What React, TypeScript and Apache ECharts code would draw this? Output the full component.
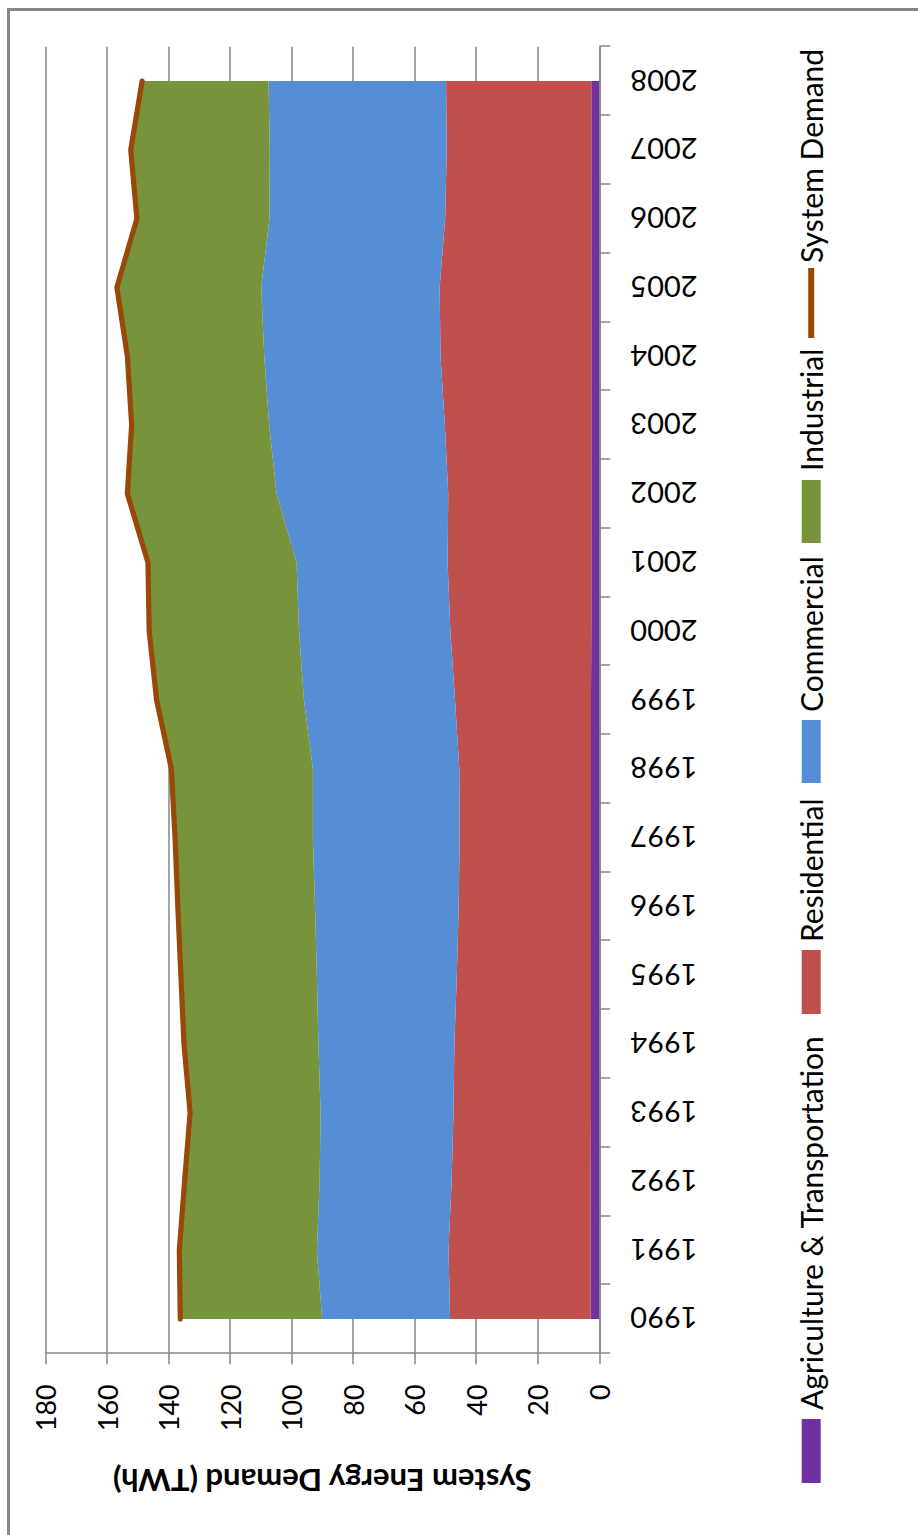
import React, { useEffect, useRef } from "react";
import * as echarts from "echarts";

// ---- data (TWh) ----
const years = [
  "1990", "1991", "1992", "1993", "1994", "1995", "1996", "1997", "1998", "1999",
  "2000", "2001", "2002", "2003", "2004", "2005", "2006", "2007", "2008",
];
const agriculture = [2.8, 2.8, 2.8, 2.7, 2.7, 2.7, 2.7, 2.7, 2.7, 2.7, 2.6, 2.6, 2.6, 2.6, 2.6, 2.6, 2.6, 2.6, 2.6];
const residential = [45.7, 46.2, 45.2, 44.7, 44.4, 43.6, 43.0, 42.7, 42.8, 44.2, 45.8, 46.7, 46.5, 47.6, 49.0, 49.3, 47.5, 47.0, 47.2];
const commercial = [41.6, 42.8, 42.9, 43.2, 44.2, 45.5, 46.7, 47.7, 47.6, 49.1, 49.2, 49.1, 55.8, 57.1, 57.3, 58.0, 57.1, 57.5, 57.7];
const industrial = [45.5, 44.1, 43.3, 41.8, 43.1, 43.6, 44.0, 44.2, 45.4, 47.3, 48.1, 47.7, 47.9, 44.1, 43.9, 46.3, 42.5, 44.6, 40.5];
const systemDemand = [136.2, 136.5, 134.8, 133.0, 135.0, 136.0, 137.0, 137.9, 139.1, 143.9, 146.3, 146.7, 153.4, 152.0, 153.4, 156.8, 150.3, 152.3, 148.6];
const valueTicks = [0, 20, 40, 60, 80, 100, 120, 140, 160, 180];

const seriesNames = ["Agriculture & Transportation", "Residential", "Commercial", "Industrial", "System Demand"];
const seriesColors = ["#7030A0", "#C0504D", "#558ED5", "#77933C", "#984807"];

// ---- layout (chart is drawn landscape, then rotated -90deg) ----
const W = 1535;
const H = 918;
const FONT = "Lato, 'Noto Sans', sans-serif";
const GRAY = "#868686";
const LEG_FONT = 30;
const LEG_CENTER = 811.2;

function legendItem(name: string, left: number, itemWidth: number, itemHeight: number, padLeft: number) {
  return {
    orient: "horizontal",
    left,
    top: LEG_CENTER - LEG_FONT / 2,
    padding: 0,
    itemGap: 0,
    itemWidth,
    itemHeight,
    selectedMode: false,
    data: [{ name, icon: "rect" }],
    itemStyle: { borderWidth: 0 },
    textStyle: { fontSize: LEG_FONT, color: "#000", fontFamily: FONT, padding: [0, 0, 0, padLeft] },
  };
}

function areaSeries(name: string, data: number[], color: string) {
  return {
    name,
    type: "line",
    stack: "demand",
    data,
    symbol: "none",
    showSymbol: false,
    itemStyle: { color },
    lineStyle: { width: 0, opacity: 0 },
    areaStyle: { color, opacity: 1 },
    emphasis: { disabled: true },
    z: 2,
  };
}

const option = {
  animation: false,
  backgroundColor: "#ffffff",
  textStyle: { fontFamily: FONT },
  grid: { left: 181.7, right: 46.7, top: 45.5, bottom: 318.7, containLabel: false, outerBoundsMode: "none" },
  xAxis: {
    type: "category",
    data: years,
    boundaryGap: true,
    axisLine: { show: true, lineStyle: { color: GRAY, width: 1.5 } },
    axisTick: { show: true, length: 11, interval: 0, lineStyle: { color: GRAY, width: 1.5 } },
    axisLabel: { rotate: 90, margin: 31, fontSize: 29, color: "#000", fontFamily: FONT, interval: 0 },
    splitLine: { show: false },
  },
  yAxis: {
    type: "value",
    min: valueTicks[0],
    max: valueTicks[valueTicks.length - 1],
    interval: valueTicks[1] - valueTicks[0],
    name: "System Energy Demand (TWh)",
    nameLocation: "middle",
    nameRotate: 90,
    nameGap: 112,
    nameTextStyle: { fontSize: 31, fontWeight: "bold", color: "#000", fontFamily: FONT },
    axisLine: { show: true, lineStyle: { color: GRAY, width: 1.5 } },
    axisTick: { show: true, length: 11, lineStyle: { color: GRAY, width: 1.5 } },
    axisLabel: { margin: 31, fontSize: 27, color: "#000", fontFamily: FONT },
    splitLine: { show: true, lineStyle: { color: GRAY, width: 1.5 } },
  },
  legend: [
    legendItem(seriesNames[0], 52, 64, 19, 4),
    legendItem(seriesNames[1], 521, 64, 19, 3),
    legendItem(seriesNames[2], 752, 63, 19, 3),
    legendItem(seriesNames[3], 992, 63, 19, 4),
    legendItem(seriesNames[4], 1197, 70, 6, 0),
  ],
  series: [
    areaSeries(seriesNames[0], agriculture, seriesColors[0]),
    areaSeries(seriesNames[1], residential, seriesColors[1]),
    areaSeries(seriesNames[2], commercial, seriesColors[2]),
    areaSeries(seriesNames[3], industrial, seriesColors[3]),
    {
      name: seriesNames[4],
      type: "line",
      data: systemDemand,
      symbol: "none",
      showSymbol: false,
      itemStyle: { color: seriesColors[4] },
      lineStyle: { width: 5.2, color: seriesColors[4], cap: "round", join: "round" },
      emphasis: { disabled: true },
      z: 5,
    },
  ],
  graphic: [
    {
      type: "rect",
      silent: true,
      z: 0,
      shape: { x: -10, y: 8.5, width: 1535.5, height: 930 },
      style: { fill: "none", stroke: GRAY, lineWidth: 3 },
    },
  ],
};

export default function App() {
  const ref = useRef<HTMLDivElement>(null);
  useEffect(() => {
    if (!ref.current) return;
    const chart = echarts.init(ref.current, null, { renderer: "svg", width: W, height: H });
    chart.setOption(option as any);
    return () => chart.dispose();
  }, []);
  return (
    <div
      style={{
        position: "absolute",
        left: 0,
        top: 0,
        width: 918,
        height: 1535,
        overflow: "hidden",
        background: "#fff",
      }}
    >
      <div
        ref={ref}
        style={{
          position: "absolute",
          left: 0,
          top: 0,
          width: W,
          height: H,
          transformOrigin: "0 0",
          transform: `translateY(${W}px) rotate(-90deg)`,
        }}
      />
    </div>
  );
}
